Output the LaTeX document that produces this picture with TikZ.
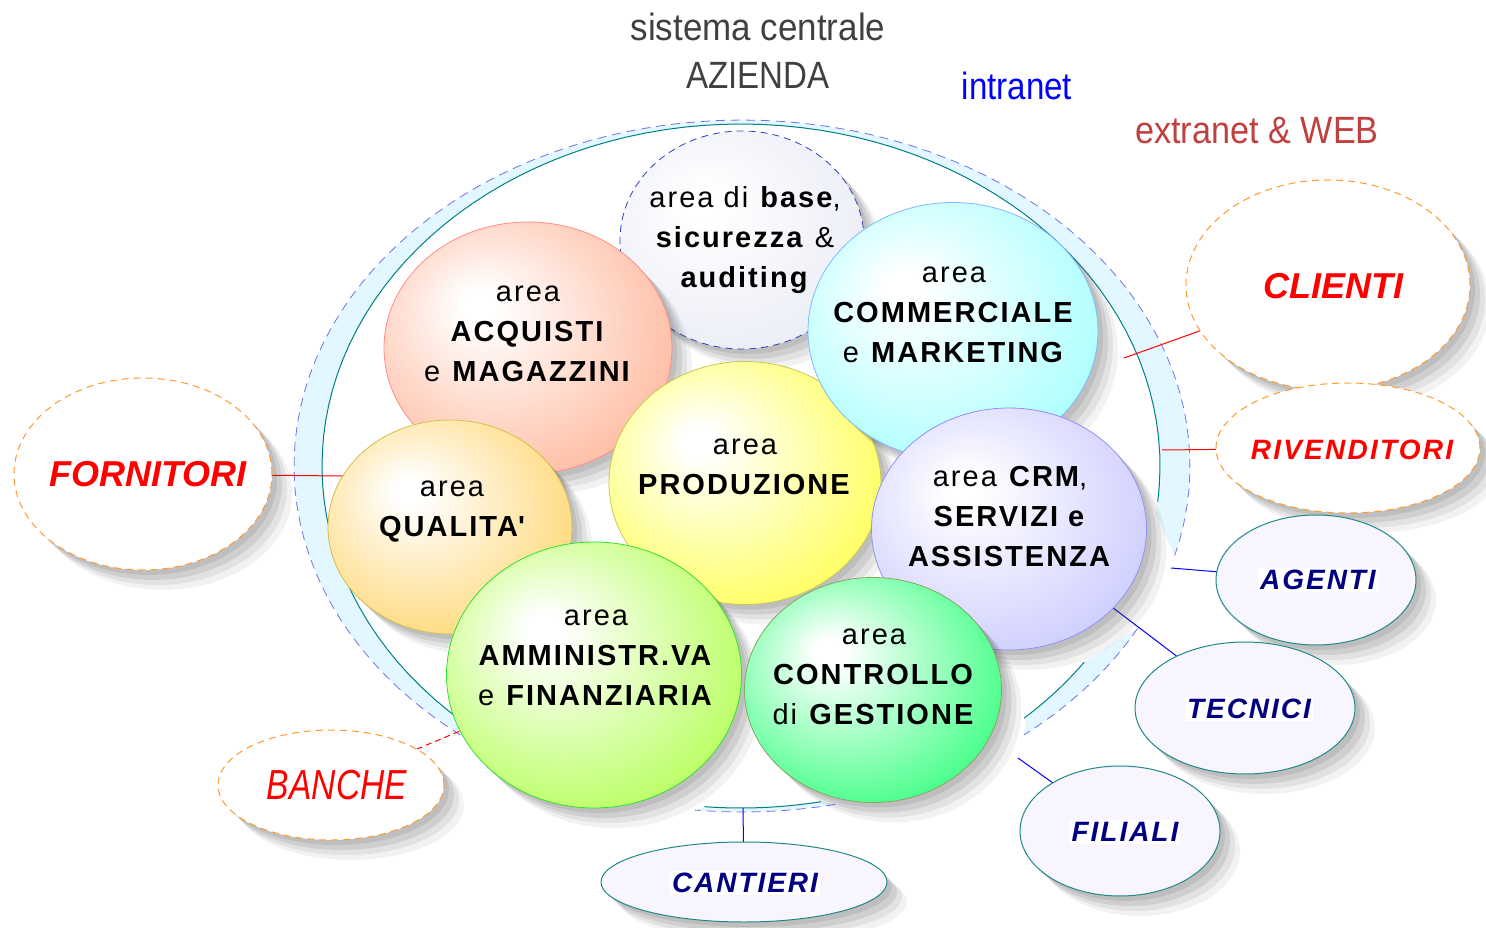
\documentclass[tikz,border=0pt]{standalone}
\usepackage{fontspec}
\setmainfont{Liberation Sans}
\usepackage{graphicx}
\usetikzlibrary{shapes.geometric,shadows,backgrounds}
\definecolor{ringfill}{HTML}{E2F7FF}
\definecolor{ringdash}{HTML}{7070F0}
\definecolor{ringteal}{HTML}{008080}
\definecolor{cAcq}{HTML}{FFBFA6}\definecolor{bAcq}{HTML}{FF8C8C}
\definecolor{cQual}{HTML}{FFDA80}\definecolor{bQual}{HTML}{D0C050}
\definecolor{cProd}{HTML}{FFFF66}\definecolor{bProd}{HTML}{C8C850}
\definecolor{cComm}{HTML}{B0FFFF}\definecolor{bComm}{HTML}{80B8FF}
\definecolor{cCRM}{HTML}{D0D0FF}\definecolor{bCRM}{HTML}{9090F8}
\definecolor{cAmm}{HTML}{BCFF68}\definecolor{bAmm}{HTML}{30E030}
\definecolor{cCtrl}{HTML}{4CFF8C}\definecolor{bCtrl}{HTML}{80A860}
\definecolor{cBase}{HTML}{ECEEF7}\definecolor{bBase}{HTML}{3040C0}
\definecolor{orangeB}{HTML}{FF9933}
\definecolor{tealB}{HTML}{208888}
\definecolor{lavW}{HTML}{F8F5FF}
\definecolor{navyT}{HTML}{000080}
\definecolor{titleG}{HTML}{404040}
\definecolor{intraB}{HTML}{0000FF}
\definecolor{extraR}{HTML}{C04040}
\newcommand\mkshade[2]{\pgfdeclareradialshading{#1}{\pgfpoint{-9bp}{9bp}}{color(0bp)=(white);color(3bp)=(white);color(30bp)=(#2);color(50bp)=(#2)}}
\mkshade{shAcq}{cAcq}
\mkshade{shQual}{cQual}
\mkshade{shProd}{cProd}
\mkshade{shComm}{cComm}
\mkshade{shCRM}{cCRM}
\mkshade{shAmm}{cAmm}
\mkshade{shCtrl}{cCtrl}
\mkshade{shBase}{cBase}
\tikzset{
  softshadow/.style={
    general shadow={fill=black!70, opacity=0.13, shadow xshift=5pt, shadow yshift=-5pt},
    general shadow={fill=black!70, opacity=0.12, shadow xshift=10pt, shadow yshift=-10pt},
    general shadow={fill=black!70, opacity=0.10, shadow xshift=15pt, shadow yshift=-15pt},
    general shadow={fill=black!70, opacity=0.07, shadow xshift=20pt, shadow yshift=-20pt}},
  circ/.style={ellipse, inner sep=0pt, outer sep=0pt, line width=0.8pt, softshadow},
  redn/.style={ellipse, inner sep=0pt, outer sep=0pt, softshadow, fill=white, draw=orangeB, line width=1pt, dash pattern=on 7pt off 5pt},
  bluen/.style={ellipse, inner sep=0pt, outer sep=0pt, softshadow, fill=lavW, draw=tealB, line width=1pt},
  areatxt/.style={align=center, inner sep=0pt, font=\fontsize{29}{40}\selectfont\addfontfeature{LetterSpace=7}},
  redtxt/.style={inner sep=0pt, text=red, font=\fontsize{36}{40}\selectfont\bfseries\itshape},
  redtxtsp/.style={inner sep=0pt, text=red, font=\fontsize{28}{32}\selectfont\bfseries\itshape\addfontfeature{LetterSpace=8}},
  bluetxt/.style={inner sep=2pt, fill=white, text=navyT, font=\fontsize{28}{32}\selectfont\bfseries\itshape\addfontfeature{LetterSpace=7}},
  titletxt/.style={inner sep=0pt, font=\fontsize{38}{44}\selectfont},
  redline/.style={draw=red, line width=1pt},
  blueline/.style={draw=intraB, line width=1pt},
  reddash/.style={draw=red, line width=1pt, dash pattern=on 6pt off 4pt},
  ringdashed/.style={draw=ringdash, line width=0.8pt, dash pattern=on 9pt off 6pt},
  ringline/.style={draw=ringteal, line width=1pt}
}
\begin{document}
\begin{tikzpicture}[x=1pt,y=-1pt]
\useasboundingbox (0,0) rectangle (1486,928);

% titles
\node[titletxt, text=titleG] (tit1) at (758,27) {\scalebox{0.92}[1]{sistema centrale}};
\node[titletxt, text=titleG] (tit2) at (758,75) {\scalebox{0.87}[1]{AZIENDA}};
\node[titletxt, text=intraB] (intra) at (1017,86) {\scalebox{0.87}[1]{intranet}};
\node[titletxt, text=extraR] (extra) at (1257,131) {\scalebox{0.9}[1]{extranet \& WEB}};

% area circles
\node[circ, shading=shBase, draw=bBase, dash pattern=on 7pt off 5pt, minimum width=244pt, minimum height=218pt] (base) at (742,240) {};
\node[circ, shading=shAcq, draw=bAcq, minimum width=288pt, minimum height=252pt] (acq) at (528,348) {};
\node[circ, shading=shQual, draw=bQual, minimum width=244pt, minimum height=214pt] (qual) at (450,527) {};
\node[circ, shading=shProd, draw=bProd, minimum width=272pt, minimum height=243pt] (prod) at (745,483) {};
\node[circ, shading=shComm, draw=bComm, minimum width=290pt, minimum height=257pt] (comm) at (953,331) {};
\node[circ, shading=shCRM, draw=bCRM, minimum width=275pt, minimum height=242pt] (crm) at (1009,529) {};
\node[circ, shading=shAmm, draw=bAmm, minimum width=295pt, minimum height=266pt] (amm) at (594,675) {};
\node[circ, shading=shCtrl, draw=bCtrl, minimum width=257pt, minimum height=225pt] (ctrl) at (873,690) {};

\node[areatxt] (baseT) at (745,240) {area di \textbf{base},\\\textbf{sicurezza} \&\\\textbf{auditing}};
\node[areatxt] (acqT) at (528,334) {area\\\textbf{ACQUISTI}\\e \textbf{MAGAZZINI}};
\node[areatxt] (qualT) at (452,512) {area\\\textbf{QUALITA\textquotesingle}};
\node[areatxt] (prodT) at (745,467) {area\\\textbf{PRODUZIONE}};
\node[areatxt] (commT) at (954,315) {area\\\textbf{COMMERCIALE}\\e \textbf{MARKETING}};
\node[areatxt] (crmT) at (1010,517) {area \textbf{CRM},\\\textbf{SERVIZI e}\\\textbf{ASSISTENZA}};
\node[areatxt] (ammT) at (596,658) {area\\\textbf{AMMINISTR.VA}\\e \textbf{FINANZIARIA}};
\node[areatxt] (ctrlT) at (874,677) {area\\\textbf{CONTROLLO}\\di \textbf{GESTIONE}};

% external nodes
\node[redn, minimum width=284pt, minimum height=210pt] (clienti) at (1328,285) {};
\node[redn, minimum width=264pt, minimum height=130pt] (rivend) at (1348,448) {};
\node[redn, minimum width=258pt, minimum height=192pt] (forn) at (143,474) {};
\node[redn, minimum width=226pt, minimum height=110pt] (banche) at (331,785) {};
\node[bluen, minimum width=200pt, minimum height=130pt] (agenti) at (1316,580) {};
\node[bluen, minimum width=220pt, minimum height=132pt] (tecnici) at (1245,708) {};
\node[bluen, minimum width=200pt, minimum height=130pt] (filiali) at (1120,831) {};
\node[bluen, minimum width=286pt, minimum height=80pt] (cantieri) at (744,882) {};

\node[redtxt] (clientiT) at (1333,286) {CLIENTI};
\node[redtxtsp] (rivendT) at (1352,450) {RIVENDITORI};
\node[redtxt] (fornT) at (148,474) {FORNITORI};
\node[inner sep=0pt, text=red, font=\fontsize{42}{46}\selectfont\itshape] (bancheT) at (337,785) {\scalebox{0.8}[1]{BANCHE}};
\node[bluetxt] (agentiT) at (1318,580) {AGENTI};
\node[bluetxt] (tecniciT) at (1249,709) {TECNICI};
\node[bluetxt] (filialiT) at (1125,832) {FILIALI};
\node[bluetxt] (cantieriT) at (745,883) {CANTIERI};

% free ends of connectors
\coordinate (cQ) at (343,476);
\coordinate (cC) at (1124,358);
\coordinate (cR) at (1162,450);
\coordinate (cA) at (1171,568);
\coordinate (cF) at (1018,758);
\coordinate (cK) at (743,808);

\begin{pgfonlayer}{background}
  % intranet ring
  \fill[ringfill] plot[domain=129:375, samples=90] ({742+448*cos(\x)},{466+346*sin(\x)})
     -- plot[domain=368:129, samples=90] ({741+419*cos(\x)},{466+342*sin(\x)}) -- cycle;
  \draw[ringdashed] plot[domain=129:375, samples=90] ({742+448*cos(\x)},{466+346*sin(\x)});
  \draw[ringline] plot[domain=129:366, samples=90] ({741+419*cos(\x)},{466+342*sin(\x)});
  \fill[ringfill] plot[domain=28:51, samples=20] ({742+448*cos(\x)},{466+346*sin(\x)})
     -- plot[domain=47:35, samples=12] ({741+419*cos(\x)},{466+342*sin(\x)}) -- cycle;
  \draw[ringdashed] plot[domain=28:51, samples=20] ({742+448*cos(\x)},{466+346*sin(\x)});
  \draw[ringline] plot[domain=35:47.5, samples=12] ({741+419*cos(\x)},{466+342*sin(\x)});
  \fill[ringfill] plot[domain=78:96, samples=12] ({742+448*cos(\x)},{466+346*sin(\x)})
     -- plot[domain=95:79, samples=12] ({741+419*cos(\x)},{466+342*sin(\x)}) -- cycle;
  \draw[ringdashed] plot[domain=78:96, samples=12] ({742+448*cos(\x)},{466+346*sin(\x)});
  \draw[ringline] plot[domain=79:95, samples=12] ({741+419*cos(\x)},{466+342*sin(\x)});
  % connectors
  \draw[redline] (forn) -- (cQ);
  \draw[redline] (clienti) -- (cC);
  \draw[redline] (rivend) -- (cR);
  \draw[reddash] (banche) -- (amm);
  \draw[blueline] (agenti) -- (cA);
  \draw[blueline] (tecnici) -- (crm);
  \draw[blueline] (filiali) -- (cF);
  \draw[blueline] (cantieri) -- (cK);
\end{pgfonlayer}
\end{tikzpicture}
\end{document}
